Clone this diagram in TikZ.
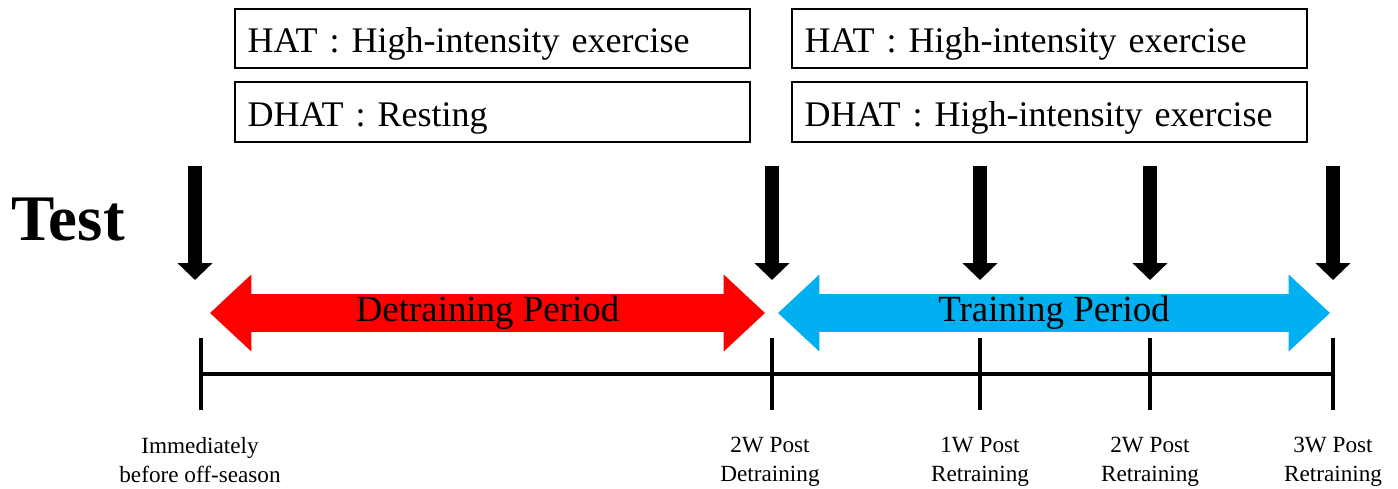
\documentclass[tikz,border=0pt]{standalone}
\usepackage{fontspec}
\setmainfont{Liberation Serif}
\usetikzlibrary{arrows.meta, shapes.arrows}
\definecolor{trainblue}{HTML}{00B0F0}

\begin{document}
\begin{tikzpicture}[x=0.02cm, y=-0.02cm,
		groupbox/.style={draw, line width=1.1pt, minimum width=10.3cm, minimum height=1.19cm,
			text width=9.8cm, inner xsep=0.25cm, text height=0.62cm, text depth=0.06cm,
			align=left, font=\fontsize{20.5}{24}\selectfont},
		period/.style={shape=double arrow, double arrow head extend=0.36cm, double arrow head indent=0cm,
			double arrow tip angle=86, minimum width=1.54cm, minimum height=11.1cm, inner sep=0pt,
			font=\fontsize{21}{24}\selectfont},
		testarrow/.style={line width=7.9pt, -{Triangle[width=19.3pt, length=9.6pt]}},
		tick/.style={line width=2.4pt},
		when/.style={anchor=north, inner sep=0pt, align=center, font=\fontsize{13.2}{16.6}\selectfont}]
	\useasboundingbox (0,0) rectangle (1398,488);
	
	% exercise boxes
	\node[groupbox] (hat1) at (492.5,38.5) {HAT : High-intensity exercise};
	\node[groupbox] (dhat1) at (492.5,112) {DHAT : Resting};
	\node[groupbox] (hat2) at (1049.5,38.5) {HAT : High-intensity exercise};
	\node[groupbox] (dhat2) at (1049.5,112) {DHAT : High-intensity exercise};
	
	% test
	\node[anchor=base, inner sep=0pt, font=\fontsize{37}{40}\bfseries\selectfont] (test) at (68,240) {Test};
	
	% test arrows
	\foreach \x/\n in {195/0, 772/1, 980/2, 1150/3, 1333/4} {
		\coordinate (top\n) at (\x,166);
		\coordinate (tip\n) at (\x,280);
		\draw[testarrow] (top\n) -- (tip\n);
	}
	
	% periods
	\node[period, fill=red] (detrain) at (487.5,313) {\raisebox{-2pt}{Detraining Period}};
	\node[period, fill=trainblue, minimum height=11.04cm] (train) at (1054,313) {\raisebox{-2pt}{Training Period}};
	
	% time line
	\foreach \x/\n in {201/0, 772/1, 980/2, 1150/3, 1333/4} {
		\coordinate (t\n) at (\x,374);
		\draw[tick] (\x,338) -- (\x,410);
	}
	\draw[line width=2.8pt] (t0) -- (t4);
	
	% time points
	\node[when] (w0) at (200,437) {Immediately\\before off-season};
	\node[when] (w1) at (770,437) {2W Post\\Detraining};
	\node[when] (w2) at (980,437) {1W Post\\Retraining};
	\node[when] (w3) at (1150,437) {2W Post\\Retraining};
	\node[when] (w4) at (1333,437) {3W Post\\Retraining};
\end{tikzpicture}
\end{document}
